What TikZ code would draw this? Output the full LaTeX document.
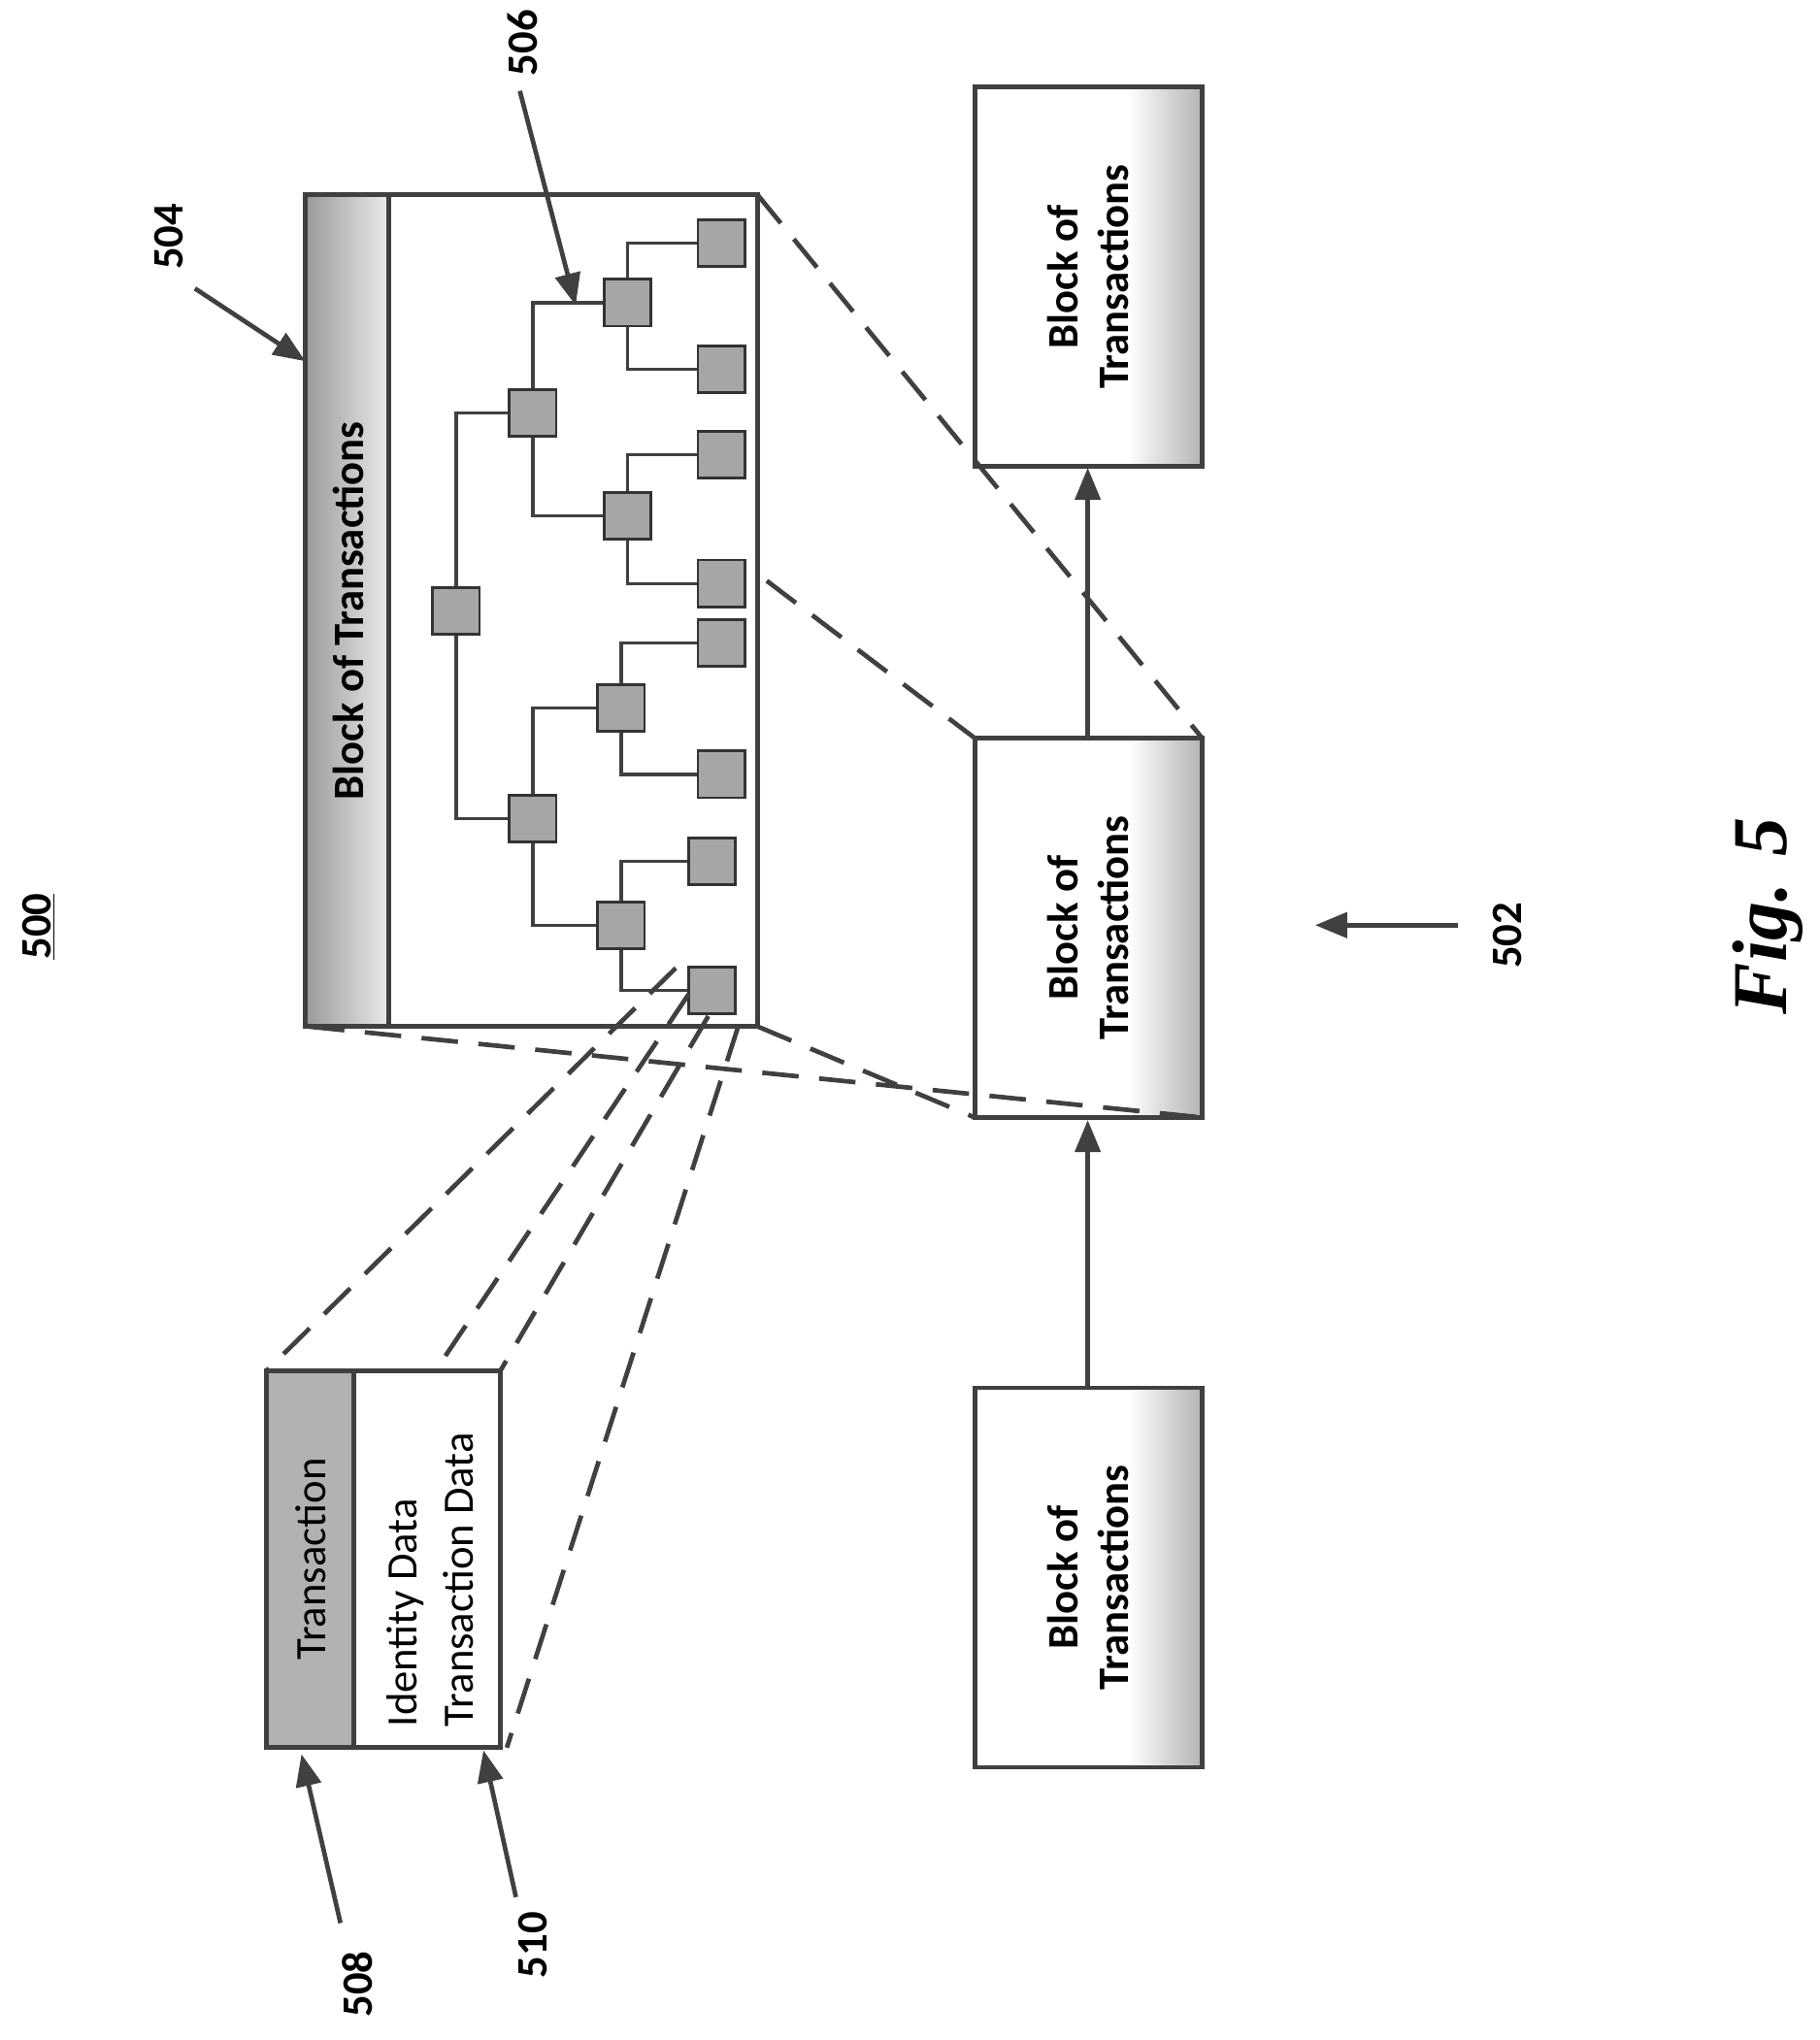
\documentclass[tikz,border=0pt]{standalone}
\usepackage{fontspec}
\setmainfont{Carlito}
\usetikzlibrary{arrows.meta}
\begin{document}
\begin{tikzpicture}[x=0.02cm,y=-0.02cm,
  sq/.style={draw=black!80,fill=black!35,line width=1.2pt,minimum size=0.72cm,inner sep=0},
  ln/.style={draw=black!75,line width=1.4pt},
  dsh/.style={draw=black!75,line width=2pt,dash pattern=on 16pt off 9pt},
  arr/.style={draw=black!75,line width=2pt,-{Triangle[length=14pt,width=11pt]}},
  box/.style={draw=black!75,line width=2pt},
  lbl/.style={rotate=90,font=\fontsize{19}{22}\selectfont\bfseries},
  txt/.style={rotate=90,font=\fontsize{19}{22}\selectfont}]
\useasboundingbox (0,0) rectangle (1400,1570);
% label 500
\node[lbl] (n500) at (30,713) {\underline{500}};
% block 504
\path[left color=black!40,right color=black!8] (235,150) rectangle (299,790);
\draw[box] (235,150) rectangle (583,790);
\draw[box] (299,150) -- (299,790);
\node[lbl] (b504) at (268,470) {Block of Transactions};
% tree
\foreach \n/\x/\y in {r/351/470,a/410/318,b/410/630,c/483/233,d/483/397,e/478/545,f/478/712,
  l1/555/187,l2/555/284,l3/555/350,l4/555/449,l5/555/495,l6/555/596,l7/548/663,l8/548/762}
  \coordinate (\n) at (\x,\y);
\draw[ln] (r) -- (351,318) -- (a);
\draw[ln] (r) -- (351,630) -- (b);
\draw[ln] (a) -- (410,233) -- (c);
\draw[ln] (a) -- (410,397) -- (d);
\draw[ln] (b) -- (410,545) -- (e);
\draw[ln] (b) -- (410,712) -- (f);
\draw[ln] (c) -- (483,187) -- (l1);
\draw[ln] (c) -- (483,284) -- (l2);
\draw[ln] (d) -- (483,350) -- (l3);
\draw[ln] (d) -- (483,449) -- (l4);
\draw[ln] (e) -- (478,495) -- (l5);
\draw[ln] (e) -- (478,596) -- (l6);
\draw[ln] (f) -- (478,663) -- (l7);
\draw[ln] (f) -- (478,762) -- (l8);
\foreach \n in {r,a,b,c,d,e,f,l1,l2,l3,l4,l5,l6,l7,l8} \node[sq] (s\n) at (\n) {};
% labels 504 506
\node[lbl] (t504) at (130,182) {504};
\coordinate (h504) at (235,278);
\draw[arr] (150,222) -- (h504);
\node[lbl] (t506) at (402,33) {506};
\coordinate (h506) at (443,235);
\draw[arr] (400,70) -- (h506);
% chain blocks
\foreach \i/\y in {1/67,2/568,3/1068}{
  \path[left color=white,right color=black!30] (868,\y) rectangle (925,\y+292);
  \draw[box] (750,\y) rectangle (925,\y+292);
  \node[lbl,align=center] (blk\i) at (837,\y+146) {Block of\\Transactions};
}
\draw[arr] (837,1068) -- (837,862);
\draw[arr] (837,568) -- (837,360);
% dashed zoom lines
\draw[dsh] (583,150) -- (925,568);
\draw[dsh] (590,447) -- (750,568);
\draw[dsh] (237,790) -- (925,860);
\draw[dsh] (583,790) -- (750,860);
% transaction box
\path[fill=black!30] (205,1055) rectangle (272,1345);
\draw[box] (205,1055) rectangle (385,1345);
\draw[box] (272,1055) -- (272,1345);
\node[txt] (tx) at (239,1200) {Transaction};
\node[txt,anchor=west] (id) at (312,1335) {Identity Data};
\node[txt,anchor=west] (td) at (353,1335) {Transaction Data};
\draw[dsh] (520,745) -- (205,1055);
\draw[dsh] (530,765) -- (335,1055);
\draw[dsh] (545,782) -- (385,1055);
\draw[dsh] (568,790) -- (390,1345);
% 508 510
\node[lbl] (t508) at (275,1527) {508};
\draw[arr] (262,1480) -- (232,1350);
\node[lbl] (t510) at (410,1497) {510};
\draw[arr] (397,1460) -- (372,1347);
% 502
\node[lbl] (t502) at (1160,720) {502};
\draw[arr] (1122,712) -- (1012,712);
% fig
\node[rotate=90,font=\fontsize{34}{40}\selectfont\bfseries\itshape\fontspec{Liberation Serif}] (fig) at (1360,705) {Fig. 5};
\end{tikzpicture}
\end{document}
